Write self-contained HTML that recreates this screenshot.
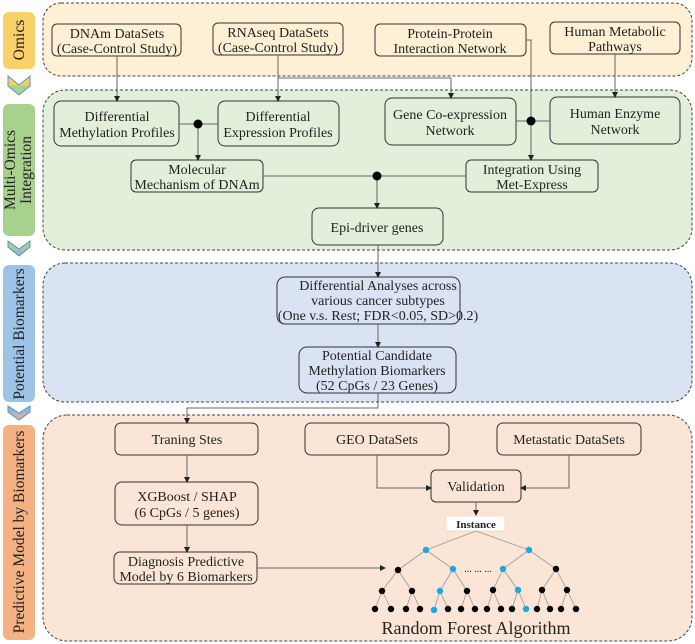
<!DOCTYPE html>
<html><head><meta charset="utf-8"><style>
html,body{margin:0;padding:0;background:#fff;}
svg{display:block;}
text{font-family:"Liberation Serif",serif;fill:#222;}
</style></head><body>
<svg width="695" height="644" viewBox="0 0 695 644" xmlns="http://www.w3.org/2000/svg">
<defs>
<linearGradient id="c1" x1="0" y1="0" x2="0" y2="1"><stop offset="0.5" stop-color="#f7cf5e"/><stop offset="0.5" stop-color="#a9d18e"/></linearGradient>
<linearGradient id="c2" x1="0" y1="0" x2="0" y2="1"><stop offset="0.3" stop-color="#a9d18e"/><stop offset="1" stop-color="#8fb4e0"/></linearGradient>
<linearGradient id="c3" x1="0" y1="0" x2="0" y2="1"><stop offset="0.3" stop-color="#8fb4e0"/><stop offset="1" stop-color="#f4b183"/></linearGradient>
<marker id="a" markerWidth="6" markerHeight="6" refX="5" refY="3" orient="auto" markerUnits="userSpaceOnUse"><path d="M0,0 L6,3 L0,6 z" fill="#222"/></marker>
</defs>
<!-- sidebars -->
<rect x="3" y="12" width="32" height="57" rx="6" fill="#f9d06a"/>
<text transform="translate(24,40) rotate(-90)" text-anchor="middle" font-size="15.5">Omics</text>
<polygon points="8,76 19,85 30,76 30,86 19,95 8,86" fill="url(#c1)" stroke="#5b8fc9" stroke-width="1"/>
<rect x="3" y="104" width="32" height="132" rx="6" fill="#a9d18e"/>
<text transform="translate(15,170) rotate(-90)" text-anchor="middle" font-size="15.5">Multi-Omics</text>
<text transform="translate(31,170) rotate(-90)" text-anchor="middle" font-size="15.5">Integration</text>
<polygon points="8,241 19,249 30,241 30,247 19,256 8,247" fill="url(#c2)" stroke="#5b8fc9" stroke-width="1"/>
<rect x="3" y="265" width="32" height="137" rx="6" fill="#9dc3e6"/>
<text transform="translate(24,334) rotate(-90)" text-anchor="middle" font-size="15.5">Potential Biomarkers</text>
<polygon points="8,406 19,413 30,406 30,412 19,420 8,412" fill="url(#c3)" stroke="#5b8fc9" stroke-width="1"/>
<rect x="3" y="425" width="32" height="215" rx="6" fill="#f4b183"/>
<text transform="translate(24,532) rotate(-90)" text-anchor="middle" font-size="15.5">Predictive Model by Biomarkers</text>

<!-- panels -->
<g stroke="#444" stroke-dasharray="3,2" stroke-width="1">
<rect x="43" y="3" width="649" height="73" rx="18" fill="#fdf0d4"/>
<rect x="43" y="90" width="649" height="160" rx="22" fill="#e2efda"/>
<rect x="43" y="263" width="649" height="139" rx="22" fill="#dae3f3"/>
<rect x="43" y="415" width="649" height="226" rx="24" fill="#fbe5d6"/>
</g>

<!-- boxes -->
<g stroke="#333" stroke-width="1">
<rect x="52" y="24" width="129" height="32" rx="5" fill="#fdf0d4"/>
<rect x="213" y="23" width="130" height="32" rx="5" fill="#fdf0d4"/>
<rect x="375" y="24" width="151" height="32" rx="5" fill="#fdf0d4"/>
<rect x="550" y="22" width="130" height="32" rx="5" fill="#fdf0d4"/>
<rect x="54" y="101" width="125" height="45" rx="7" fill="#e2efda"/>
<rect x="218" y="101" width="121" height="45" rx="7" fill="#e2efda"/>
<rect x="131" y="160" width="132" height="32" rx="5" fill="#e2efda"/>
<rect x="385" y="98" width="131" height="47" rx="7" fill="#e2efda"/>
<rect x="550" y="97" width="130" height="47" rx="7" fill="#e2efda"/>
<rect x="466" y="160" width="132" height="32" rx="5" fill="#e2efda"/>
<rect x="312" y="208" width="131" height="37" rx="7" fill="#e2efda"/>
<rect x="277" y="277" width="183" height="47" rx="8" fill="#dae3f3"/>
<rect x="299" y="347" width="157" height="46" rx="8" fill="#dae3f3"/>
<rect x="115" y="423" width="143" height="32" rx="6" fill="#fbe5d6"/>
<rect x="305" y="423" width="144" height="32" rx="6" fill="#fbe5d6"/>
<rect x="497" y="423" width="144" height="32" rx="6" fill="#fbe5d6"/>
<rect x="115" y="482" width="143" height="43" rx="7" fill="#fbe5d6"/>
<rect x="114" y="552" width="143" height="32" rx="6" fill="#fbe5d6"/>
<rect x="431" y="470" width="90" height="32" rx="5" fill="#fbe5d6"/>
</g>
<rect x="446" y="516" width="59" height="15" fill="#fff" stroke="#f2d8c6" stroke-width="0.8"/>

<!-- text -->
<g font-size="14" text-anchor="middle">
<text x="117" y="38">DNAm DataSets</text><text x="117" y="53">(Case-Control Study)</text>
<text x="278" y="37">RNAseq DataSets</text><text x="278" y="52">(Case-Control Study)</text>
<text x="450" y="38">Protein-Protein</text><text x="450" y="53">Interaction Network</text>
<text x="615" y="36">Human Metabolic</text><text x="615" y="51">Pathways</text>
<text x="117" y="121">Differential</text><text x="117" y="137">Methylation Profiles</text>
<text x="278" y="121">Differential</text><text x="278" y="137">Expression Profiles</text>
<text x="197" y="174">Molecular</text><text x="197" y="189">Mechanism of DNAm</text>
<text x="450" y="119">Gene Co-expression</text><text x="450" y="135">Network</text>
<text x="615" y="118">Human Enzyme</text><text x="615" y="134">Network</text>
<text x="532" y="174">Integration Using</text><text x="532" y="189">Met-Express</text>
<text x="377" y="232">Epi-driver genes</text>
<text x="378" y="290">Differential Analyses across</text>
<text x="378" y="305">various cancer subtypes</text>
<text x="378" y="320">(One v.s. Rest; FDR&lt;0.05, SD&gt;0.2)</text>
<text x="377" y="360">Potential Candidate</text>
<text x="377" y="375">Methylation Biomarkers</text>
<text x="377" y="390">(52 CpGs / 23 Genes)</text>
<text x="187" y="444">Traning Stes</text>
<text x="377" y="444">GEO DataSets</text>
<text x="569" y="444">Metastatic DataSets</text>
<text x="187" y="501">XGBoost / SHAP</text>
<text x="187" y="517">(6 CpGs / 5 genes)</text>
<text x="186" y="566">Diagnosis Predictive</text>
<text x="186" y="581">Model by 6 Biomarkers</text>
<text x="476" y="491">Validation</text>
<text x="476" y="528" font-size="11" font-weight="bold">Instance</text>
<text x="476" y="634" font-size="18">Random Forest Algorithm</text>
</g>

<!-- connectors -->
<g stroke="#666" stroke-width="1" fill="none">
<line x1="117" y1="56" x2="117" y2="101" marker-end="url(#a)"/>
<line x1="278" y1="55" x2="278" y2="101" marker-end="url(#a)"/>
<polyline points="278,78 451,78 451,98" marker-end="url(#a)"/>
<polyline points="526,40 531,40 531,160" marker-end="url(#a)"/>
<line x1="615" y1="54" x2="615" y2="97" marker-end="url(#a)"/>
<line x1="179" y1="124" x2="218" y2="124"/>
<line x1="198" y1="124" x2="198" y2="160" marker-end="url(#a)"/>
<line x1="516" y1="121" x2="550" y2="121"/>
<line x1="263" y1="176" x2="466" y2="176"/>
<line x1="377" y1="176" x2="377" y2="208" marker-end="url(#a)"/>
<line x1="378" y1="245" x2="378" y2="277" marker-end="url(#a)"/>
<line x1="378" y1="324" x2="378" y2="347" marker-end="url(#a)"/>
<polyline points="378,393 378,408 187,408 187,423" marker-end="url(#a)"/>
<line x1="187" y1="455" x2="187" y2="482" marker-end="url(#a)"/>
<line x1="187" y1="525" x2="187" y2="552" marker-end="url(#a)"/>
<polyline points="377,455 377,488 431,488" marker-end="url(#a)"/>
<polyline points="569,455 569,488 521,488" marker-end="url(#a)"/>
<line x1="476" y1="502" x2="476" y2="515" marker-end="url(#a)"/>
<line x1="257" y1="568" x2="385" y2="568" marker-end="url(#a)"/>
</g>
<g fill="#000">
<circle cx="198" cy="124" r="4.5"/><circle cx="531" cy="121" r="4.5"/><circle cx="377" cy="176" r="4.5"/>
</g>

<!-- tree -->
<g stroke="#999" stroke-width="0.8">
<line x1="476" y1="531" x2="426" y2="550"/><line x1="476" y1="531" x2="529" y2="550"/>
<line x1="426" y1="550" x2="398" y2="570"/><line x1="426" y1="550" x2="453" y2="569"/>
<line x1="529" y1="550" x2="503" y2="569"/><line x1="529" y1="550" x2="556" y2="569"/>
<line x1="398" y1="570" x2="382" y2="591"/><line x1="398" y1="570" x2="412" y2="591"/>
<line x1="453" y1="569" x2="440" y2="591"/><line x1="453" y1="569" x2="467" y2="591"/>
<line x1="503" y1="569" x2="493" y2="590"/><line x1="503" y1="569" x2="518" y2="590"/>
<line x1="556" y1="569" x2="542" y2="590"/><line x1="556" y1="569" x2="567" y2="590"/>
<line x1="382" y1="591" x2="375" y2="609"/><line x1="382" y1="591" x2="391" y2="609"/>
<line x1="412" y1="591" x2="406" y2="609"/><line x1="412" y1="591" x2="420" y2="609"/>
<line x1="440" y1="591" x2="434" y2="610"/><line x1="440" y1="591" x2="448" y2="609"/>
<line x1="467" y1="591" x2="461" y2="609"/><line x1="467" y1="591" x2="475" y2="609"/>
<line x1="493" y1="590" x2="487" y2="609"/><line x1="493" y1="590" x2="501" y2="609"/>
<line x1="518" y1="590" x2="512" y2="609"/><line x1="518" y1="590" x2="526" y2="609"/>
<line x1="542" y1="590" x2="537" y2="609"/><line x1="542" y1="590" x2="550" y2="609"/>
<line x1="567" y1="590" x2="561" y2="609"/><line x1="567" y1="590" x2="576" y2="609"/>
</g>
<g fill="#000">
<circle cx="398" cy="570" r="3.2"/><circle cx="556" cy="569" r="3.2"/>
<circle cx="382" cy="591" r="3.2"/><circle cx="412" cy="591" r="3.2"/><circle cx="467" cy="591" r="3.2"/><circle cx="493" cy="590" r="3.2"/><circle cx="542" cy="590" r="3.2"/><circle cx="567" cy="590" r="3.2"/>
<circle cx="375" cy="609" r="3.2"/><circle cx="391" cy="609" r="3.2"/><circle cx="406" cy="609" r="3.2"/><circle cx="420" cy="609" r="3.2"/>
<circle cx="448" cy="609" r="3.2"/><circle cx="461" cy="609" r="3.2"/><circle cx="475" cy="609" r="3.2"/>
<circle cx="487" cy="609" r="3.2"/><circle cx="501" cy="609" r="3.2"/><circle cx="512" cy="609" r="3.2"/>
<circle cx="537" cy="609" r="3.2"/><circle cx="550" cy="609" r="3.2"/><circle cx="561" cy="609" r="3.2"/><circle cx="576" cy="609" r="3.2"/>
</g>
<g fill="#1aa7e6">
<circle cx="426" cy="550" r="3.2"/><circle cx="529" cy="550" r="3.2"/><circle cx="453" cy="569" r="3.2"/><circle cx="503" cy="569" r="3.2"/>
<circle cx="440" cy="591" r="3.2"/><circle cx="518" cy="590" r="3.2"/><circle cx="434" cy="610" r="3.2"/><circle cx="526" cy="609" r="3.2"/>
</g>
<text x="478" y="572" font-size="10" text-anchor="middle">... ... ...</text>
</svg>
</body></html>
